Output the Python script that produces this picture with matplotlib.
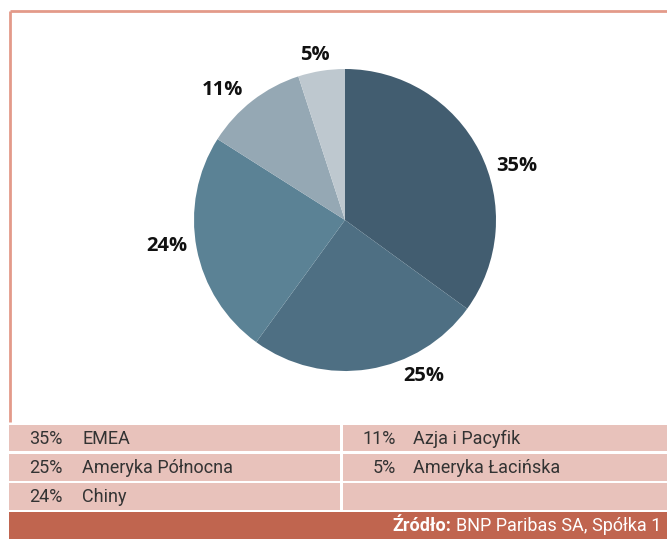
import matplotlib.pyplot as plt
from matplotlib.patches import Rectangle

# data
regions = ["EMEA", "Ameryka Północna", "Chiny", "Azja i Pacyfik", "Ameryka Łacińska"]
shares = [35, 25, 24, 11, 5]
colors = ["#425d70", "#4e6f83", "#5b8295", "#95a8b4", "#bec8cf"]
# where the % labels sit, in pie-radius units
label_pos = [(1.14, 0.36), (0.52, -1.03), (-1.18, -0.17), (-0.81, 0.86), (-0.20, 1.09)]

W, H = 667, 539
fig = plt.figure(figsize=(W / 100, H / 100), dpi=100)

# background layer in pixel coordinates
bg = fig.add_axes([0, 0, 1, 1])
bg.set_xlim(0, W)
bg.set_ylim(H, 0)
bg.axis("off")

line_col = "#e39a8a"
bg.plot([9.5, 9.5], [10.5, 422], color=line_col, lw=2, solid_capstyle="butt")
bg.plot([9.5, W], [10.5, 10.5], color=line_col, lw=2, solid_capstyle="butt")

row_col = "#e8c2bb"
rows = [(425, 451), (454, 481), (483, 510)]
for (y0, y1) in rows:
    bg.add_patch(Rectangle((9, y0), 331, y1 - y0, color=row_col, lw=0))
    bg.add_patch(Rectangle((343, y0), W - 343, y1 - y0, color=row_col, lw=0))
bg.add_patch(Rectangle((9, 512), W - 9, H - 512, color="#c0654f", lw=0))

fam = ["Roboto", "DejaVu Sans"]
txt_font = dict(family=fam, fontsize=13, color="#333333", va="center")
for i, (name, v) in enumerate(zip(regions, shares)):
    col = i // 3
    row = i % 3
    yc = (rows[row][0] + rows[row][1]) / 2 + 0.5
    xr = 62 if col == 0 else 396
    xn = 82 if col == 0 else 413
    bg.text(xr, yc, f"{v}%", ha="right", **txt_font)
    bg.text(xn, yc, name, ha="left", **txt_font)

src = bg.text(661, 526, "BNP Paribas SA, Spółka 1", ha="right", va="center",
              family=fam, fontsize=13, color="white")
fig.canvas.draw()
bb = src.get_window_extent()
# place bold prefix just left of the source text
x_left = bg.transData.inverted().transform((bb.x0, 0))[0]
bg.text(x_left - 4, 526, "Źródło:", ha="right", va="center",
        family=fam, fontsize=13, color="white", fontweight="bold")

# pie
cx, cy, r = 345, 220, 151
pax = fig.add_axes([(cx - r) / W, (H - cy - r) / H, 2 * r / W, 2 * r / H])
pax.pie(shares, colors=colors, startangle=90, counterclock=False, radius=1,
        wedgeprops=dict(linewidth=0))
pax.set_xlim(-1, 1)
pax.set_ylim(-1, 1)
pax.set_aspect("equal")
pax.axis("off")
for v, (x, y) in zip(shares, label_pos):
    pax.text(x, y, f"{v}%", ha="center", va="center", fontsize=14.5, fontweight="bold",
             family=["Open Sans", "DejaVu Sans"], color="#111111")

fig.savefig("out.png", dpi=100)
